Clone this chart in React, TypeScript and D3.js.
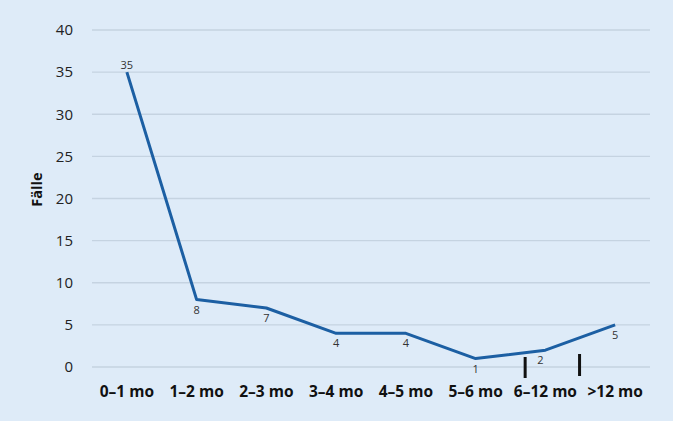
import React from "react";
import * as d3 from "d3";

const categories = ["0–1 mo", "1–2 mo", "2–3 mo", "3–4 mo", "4–5 mo", "5–6 mo", "6–12 mo", ">12 mo"];
const cases = [35, 8, 7, 4, 4, 1, 2, 5];
const yTicks = [0, 5, 10, 15, 20, 25, 30, 35, 40];
// axis break markers, as offsets from the 6–12 mo category centre (fraction of band)
const breakOffsets = [-0.29, 0.49];

const W = 673;
const H = 421;
const margin = { top: 30, right: 23, bottom: 54, left: 92 };

export default function App() {
  const x = d3
    .scaleBand<string>()
    .domain(categories)
    .range([margin.left, W - margin.right])
    .padding(0);
  const y = d3.scaleLinear().domain([0, 40]).range([H - margin.bottom, margin.top]);

  const line = d3
    .line<number>()
    .x((d, i) => (x(categories[i]) as number) + x.bandwidth() / 2)
    .y((d) => y(d));

  const cx = (i: number) => (x(categories[i]) as number) + x.bandwidth() / 2;
  const breakX = breakOffsets.map((o) => cx(6) + o * x.bandwidth());

  return (
    <svg
      width={W}
      height={H}
      style={{ position: "absolute", left: 0, top: 0, background: "#deebf8" }}
      fontFamily="'Open Sans', sans-serif"
    >
      <rect width={W} height={H} fill="#deebf8" />
      {yTicks.map((t) => (
        <g key={t}>
          <line x1={margin.left} x2={W - margin.right} y1={y(t)} y2={y(t)} stroke="#c5d3e1" strokeWidth={1.3} />
          <text x={73} y={y(t)} dy="0.35em" textAnchor="end" fontSize={15} fill="#222">
            {t}
          </text>
        </g>
      ))}
      <text
        transform={`translate(37,${(y(20) + y(15)) / 2 - 30}) rotate(-90)`}
        textAnchor="middle"
        dy="0.35em"
        fontSize={14.5}
        fontWeight="bold"
        fill="#111"
      >
        Fälle
      </text>
      {categories.map((c, i) => (
        <text key={c} x={cx(i)} y={H - margin.bottom + 30} textAnchor="middle" fontSize={15.5} fontWeight="bold" fill="#111">
          {c}
        </text>
      ))}
      <path d={line(cases) || ""} fill="none" stroke="#1c5fa3" strokeWidth={3} strokeLinejoin="round" />
      {cases.map((v, i) => (
        <text
          key={i}
          x={cx(i) + (i === 6 ? -5 : 0)}
          y={i === 0 ? y(v) - 3 : y(v) + 14}
          textAnchor="middle"
          fontSize={11}
          fill="#333"
        >
          {v}
        </text>
      ))}
      {breakX.map((bx, i) => (
        <line key={i} x1={bx} x2={bx} y1={y(0) - 10 - (i === 1 ? 3 : 0)} y2={y(0) + 11 - (i === 1 ? 2 : 0)} stroke="#111" strokeWidth={3} />
      ))}
    </svg>
  );
}
